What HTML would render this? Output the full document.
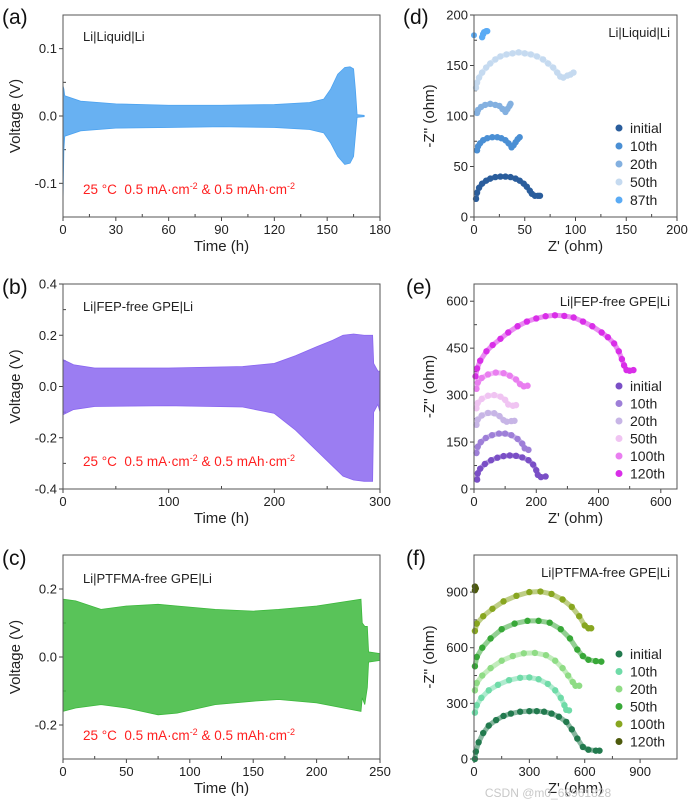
<!DOCTYPE html>
<html><head><meta charset="utf-8">
<style>
html,body{margin:0;padding:0;background:#fff;}
svg{display:block;font-family:"Liberation Sans",Arial,sans-serif;}
</style></head>
<body>
<svg id="fig" width="692" height="805" viewBox="0 0 692 805" xmlns="http://www.w3.org/2000/svg"></svg>
<script>
// ---------- Voltage envelope data (time h, upper V, lower V) ----------
const aTime=[0,0.5,1,10,30,60,90,120,140,148,152,156,160,163,165,166,167,171];
const aUpper=[0.045,0.04,0.03,0.022,0.018,0.016,0.016,0.017,0.02,0.025,0.04,0.062,0.072,0.073,0.07,0.04,0.002,0.001];
const aLower=[-0.13,-0.05,-0.03,-0.022,-0.018,-0.017,-0.016,-0.017,-0.02,-0.025,-0.04,-0.06,-0.072,-0.07,-0.06,-0.03,-0.002,-0.001];
const bTime=[0,10,30,100,170,200,220,240,255,265,275,285,293,294,298,300];
const bUpper=[0.105,0.085,0.072,0.072,0.078,0.09,0.12,0.155,0.18,0.2,0.205,0.2,0.2,0.09,0.06,0.06];
const bLower=[-0.11,-0.09,-0.078,-0.075,-0.08,-0.105,-0.17,-0.25,-0.31,-0.35,-0.365,-0.37,-0.37,-0.1,-0.07,-0.1];
const cTime=[0,10,30,50,75,90,120,150,170,200,235,236,238,240,241,250];
const cUpper=[0.17,0.165,0.14,0.15,0.155,0.15,0.14,0.135,0.14,0.15,0.17,0.1,0.09,0.09,0.015,0.01];
const cLower=[-0.16,-0.15,-0.14,-0.15,-0.17,-0.165,-0.14,-0.13,-0.125,-0.135,-0.16,-0.12,-0.14,-0.09,-0.015,-0.01];
// ---------- EIS data ----------
const dNames=["initial","10th","20th","50th","87th"];
const dColors=["#2a5d9c","#4a8fd4","#83b0e0","#c5daf0","#5aabf5"];
const dSeries=[
[[2,18],[3,24],[5,29],[8,33],[12,36],[16,38],[21,39.5],[26,40],[31,40],[36,39.5],[41,38],[45,36],[49,33],[52,30],[55,26],[57,23],[60,21],[63,21],[65,21]],
[[3,66],[4,70],[6,73],[9,76],[13,78],[18,79],[23,79],[27,78],[31,76],[34,73],[37,69],[39,71],[41,74],[43,77],[45,79]],
[[3,103],[4,106],[7,109],[11,111],[16,112],[21,111],[25,110],[28,107],[31,104],[33,107],[35,110],[36,112]],
[[2,128],[3,133],[5,138],[8,143],[12,148],[16,152],[21,156],[26,159],[32,161],[38,162],[44,163],[50,162],[56,161],[62,159],[68,156],[73,152],[78,148],[82,143],[85,139],[88,138],[92,140],[95,141],[98,143]],
[[8,178],[9,181],[10,183],[12,184],[13,184]]];
const dStray=[[0,180]];
const eNames=["initial","10th","20th","50th","100th","120th"];
const eColors=["#7a4fc6","#9e7fd8","#c7b5e6","#f0c4f2","#e97ef0","#d92ee8"];
const eSeries=[
[[10,30],[12,50],[20,65],[35,80],[55,92],[75,100],[95,105],[115,107],[135,106],[155,101],[175,92],[190,78],[200,60],[205,45],[215,38],[230,40]],
[[8,115],[12,135],[22,150],[38,163],[58,172],[80,177],[100,177],[120,172],[140,160],[155,145],[163,130],[175,125]],
[[8,205],[12,222],[25,235],[45,243],[65,242],[82,233],[95,220],[105,215],[120,217],[130,218]],
[[8,258],[12,275],[25,288],[45,298],[65,300],[85,295],[100,285],[110,270],[125,266],[135,268]],
[[8,320],[12,340],[25,355],[45,366],[70,372],[95,370],[115,362],[135,350],[148,335],[160,328],[172,330]],
[[5,360],[10,385],[20,410],[40,440],[60,460],[85,480],[110,500],[140,520],[170,535],[200,545],[230,552],[260,555],[290,553],[320,548],[350,535],[380,520],[410,500],[430,485],[450,465],[465,440],[475,415],[482,395],[490,380],[500,378],[512,380]]];
const fNames=["initial","10th","20th","50th","100th","120th"];
const fColors=["#227a4e","#6fdba8","#8fdc85","#38a838","#88a620","#4d5a0c"];
const fSeries=[
[[5,0],[10,40],[25,90],[50,140],[80,180],[120,210],[160,232],[200,245],[250,255],[300,258],[340,258],[380,255],[420,245],[460,228],[500,200],[530,160],[560,110],[590,65],[620,50],[660,45],[680,45]],
[[5,250],[15,290],[40,330],[80,370],[130,400],[190,425],[250,438],[300,440],[350,430],[400,405],[440,370],[470,330],[490,290],[500,265],[515,262]],
[[5,370],[15,410],[45,450],[90,490],[150,530],[210,555],[270,570],[330,572],[390,560],[440,530],[480,490],[510,450],[535,415],[550,395],[570,395]],
[[5,500],[15,550],[45,600],[90,650],[150,700],[220,730],[290,745],[350,745],[410,735],[470,700],[520,650],[560,590],[590,555],[620,535],[660,528],[690,525]],
[[5,690],[15,730],[50,770],[100,810],[160,850],[230,880],[300,900],[360,903],[420,890],[480,860],[530,820],[570,770],[600,720],[620,705],[635,705]],
[[5,930],[10,920],[5,910]]];
const aXTicks=[0,30,60,90,120,150,180], aYTicks=[0.1,0.0,-0.1], aYLabels=["0.1","0.0","-0.1"];
const bXTicks=[0,100,200,300], bYTicks=[0.4,0.2,0,-0.2,-0.4], bYLabels=["0.4","0.2","0.0","-0.2","-0.4"];
const cXTicks=[0,50,100,150,200,250], cYTicks=[0.2,0,-0.2], cYLabels=["0.2","0.0","-0.2"];
const dTicks=[0,50,100,150,200];
const eTicks=[0,150,300,450,600], eXTicks=[0,200,400,600];
const fTicks=[0,300,600,900];

const NS="http://www.w3.org/2000/svg";
const svg=document.getElementById('fig');
function mk(tag,attrs,parent,txt){const e=document.createElementNS(NS,tag);for(const k in attrs)e.setAttribute(k,attrs[k]);if(txt!==undefined)e.textContent=txt;(parent||svg).appendChild(e);return e;}

function panel(o){
  const g=mk('g',{});
  
  
  const sx=v=>o.x0+(v-o.xmin)/(o.xmax-o.xmin)*(o.x1-o.x0);
  const sy=v=>o.y1-(v-o.ymin)/(o.ymax-o.ymin)*(o.y1-o.y0);
  o.sx=sx;o.sy=sy;o.g=g;
  o.xt.forEach((t,i)=>{
    const tk=mk('line',{x1:sx(t),x2:sx(t),y1:o.y1,y2:o.y1+4,stroke:'#444','stroke-width':1},g);
    
    
    const lb=mk('text',{x:sx(t),y:o.y1+17,'font-size':13,'text-anchor':'middle',fill:'#222'},g,(o.xl?o.xl[i]:String(t)));
    
    
    if(i<o.xt.length-1){const m=(t+o.xt[i+1])/2;mk('line',{x1:sx(m),x2:sx(m),y1:o.y1,y2:o.y1-3,stroke:'#444'},g);}
  });
  o.yt.forEach((t,i)=>{
    const tk=mk('line',{x1:o.x0-4,x2:o.x0,y1:sy(t),y2:sy(t),stroke:'#444'},g);
    
    
    const lb=mk('text',{x:o.x0-6,y:sy(t)+4.5,'font-size':13,'text-anchor':'end',fill:'#222'},g,(o.yl?o.yl[i]:String(t)));
    
    
    if(i<o.yt.length-1){const m=(t+o.yt[i+1])/2;mk('line',{x1:o.x0,x2:o.x0+3,y1:sy(m),y2:sy(m),stroke:'#444'},g);}
  });
  const xt=mk('text',{x:(o.x0+o.x1)/2,y:o.y1+34,'font-size':15,'text-anchor':'middle',fill:'#222'},g,o.xtitle);
  
  
  const cy=(o.y0+o.y1)/2, cx=o.ytx;
  const yt=mk('text',{x:cx,y:cy,'font-size':15,'text-anchor':'middle',fill:'#222',transform:`rotate(-90 ${cx} ${cy})`},g,o.ytitle);
  
  
  const pl=mk('text',{x:o.lx,y:o.ly,'font-size':21,fill:'#111'},g,o.label);
  
  
  const tt=mk('text',{x:o.tx,y:o.ty,'font-size':13,'text-anchor':o.tanchor||'start',fill:'#222'},g,o.title);
  
  
  return o;
}
function frame(o){
  const r=mk('rect',{x:o.x0,y:o.y0,width:o.x1-o.x0,height:o.y1-o.y0,fill:'none',stroke:'#555','stroke-width':1},o.g);
  
  
}
function band(o,T,U,L,color){
  let d='M'+T.map((t,i)=>o.sx(t)+','+o.sy(U[i])).join(' L');
  for(let i=T.length-1;i>=0;i--)d+=' L'+o.sx(T[i])+','+o.sy(L[i]);
  d+='Z';
  const p=mk('path',{d:d,fill:color,'fill-opacity':0.85,stroke:color,'stroke-width':0.8},o.g);
  
  
}
function red(o,y){
  const t=mk('text',{x:o.x0+20,y:y,'font-size':13.5,fill:'#ff2020'},o.g);
  
  
  t.innerHTML='25 °C\u00a0 0.5 mA·cm<tspan dy="-5" font-size="9">-2</tspan><tspan dy="5"> &amp; 0.5 mAh·cm</tspan><tspan dy="-5" font-size="9">-2</tspan>';
}
function eis(o,series,colors,names,ly0,lsp){
  series.forEach((s,k)=>{
    const pl=mk('polyline',{points:s.map(p=>o.sx(p[0])+','+o.sy(p[1])).join(' '),fill:'none',stroke:colors[k],'stroke-width':5,'stroke-linecap':'round','stroke-linejoin':'round','stroke-opacity':0.55},o.g);
    
    
    s.forEach(p=>{
      const c=mk('circle',{cx:o.sx(p[0]),cy:o.sy(p[1]),r:3.2,fill:colors[k]},o.g);
      
      
    });
  });
  names.forEach((n,k)=>{
    const y=ly0+k*lsp;
    const c=mk('circle',{cx:619,cy:y,r:3.5,fill:colors[k]},o.g);
    
    
    const t=mk('text',{x:630,y:y+5,'font-size':14,fill:'#222'},o.g,n);
    
    
  });
}

const A=panel({name:'panel-a',x0:63,x1:380,y0:15,y1:217,xmin:0,xmax:180,ymin:-0.15,ymax:0.15,xt:aXTicks,yt:aYTicks,yl:aYLabels,xtitle:'Time (h)',ytitle:'Voltage (V)',ytx:20,label:'(a)',lx:2,ly:24,title:'Li|Liquid|Li',tx:83,ty:41});
band(A,aTime,aUpper,aLower,'#4da3f0');red(A,194);frame(A);
const B=panel({name:'panel-b',x0:63,x1:380,y0:284,y1:489,xmin:0,xmax:300,ymin:-0.4,ymax:0.4,xt:bXTicks,yt:bYTicks,yl:bYLabels,xtitle:'Time (h)',ytitle:'Voltage (V)',ytx:20,label:'(b)',lx:2,ly:294,title:'Li|FEP-free GPE|Li',tx:83,ty:311});
band(B,bTime,bUpper,bLower,'#8a66f0');red(B,466);frame(B);
const C=panel({name:'panel-c',x0:63,x1:380,y0:555,y1:759,xmin:0,xmax:250,ymin:-0.3,ymax:0.3,xt:cXTicks,yt:cYTicks,yl:cYLabels,xtitle:'Time (h)',ytitle:'Voltage (V)',ytx:20,label:'(c)',lx:2,ly:565,title:'Li|PTFMA-free GPE|Li',tx:83,ty:583});
band(C,cTime,cUpper,cLower,'#3cb83c');red(C,740);frame(C);
const D=panel({name:'panel-d',x0:474,x1:677,y0:15,y1:217,xmin:0,xmax:200,ymin:0,ymax:200,xt:dTicks,yt:dTicks,xtitle:"Z' (ohm)",ytitle:"-Z'' (ohm)",ytx:434,label:'(d)',lx:403,ly:24,title:'Li|Liquid|Li',tx:670,ty:37,tanchor:'end'});
eis(D,dSeries,dColors,dNames,128,18);
dStray.forEach(p=>{const c=mk('circle',{cx:D.sx(p[0]),cy:D.sy(p[1]),r:3,fill:dColors[4]},D.g);});
frame(D);
const E=panel({name:'panel-e',x0:474,x1:677,y0:284,y1:489,xmin:0,xmax:652,ymin:0,ymax:655,xt:eXTicks,yt:eTicks,xtitle:"Z' (ohm)",ytitle:"-Z'' (ohm)",ytx:434,label:'(e)',lx:406,ly:294,title:'Li|FEP-free GPE|Li',tx:670,ty:306,tanchor:'end'});
eis(E,eSeries,eColors,eNames,386,17.5);frame(E);
const F=panel({name:'panel-f',x0:474,x1:677,y0:555,y1:759,xmin:0,xmax:1100,ymin:0,ymax:1100,xt:fTicks,yt:fTicks,xtitle:"Z' (ohm)",ytitle:"-Z'' (ohm)",ytx:434,label:'(f)',lx:406,ly:565,title:'Li|PTFMA-free GPE|Li',tx:670,ty:577,tanchor:'end'});
eis(F,fSeries,fColors,fNames,654,17.5);frame(F);
const wm=mk('text',{x:548,y:797,'font-size':12,fill:'#c8c8c8','text-anchor':'middle'},svg,'CSDN @m0_68961828');


</script>
</body></html>
